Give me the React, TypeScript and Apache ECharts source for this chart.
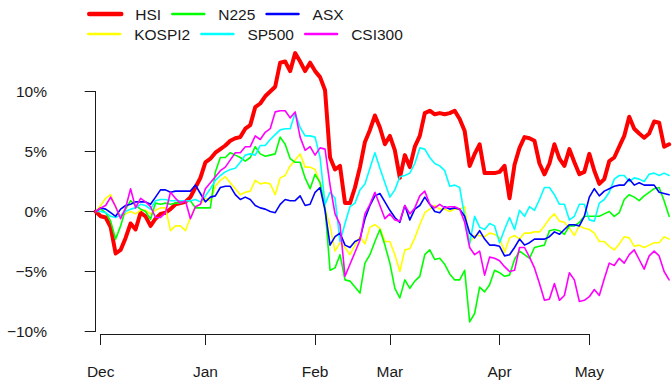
import React, { useEffect, useRef } from "react";
import * as echarts from "echarts";

const seriesNames = ["HSI", "KOSPI2", "N225", "SP500", "ASX", "CSI300"];
const seriesColors = ["#FF0000", "#FFFF00", "#00FF00", "#00FFFF", "#0000FF", "#FF00FF"];

const hsi = [
  0, -0.4, -0.5, -1.3, -3.5, -3.2, -2.2, -1.0, -1.5, -0.1,
  -0.4, -1.2, -0.6, -0.2, -0.1, 0.2, 0.6, 0.7, 0.8, 1.2,
  2.0, 2.8, 4.1, 4.4, 4.9, 5.2, 5.5, 5.9, 6.1, 6.2,
  6.9, 7.2, 8.7, 9.0, 9.6, 10.0, 10.4, 12.4, 12.5, 11.7,
  13.2, 12.5, 11.7, 12.4, 11.7, 11.2, 10.1, 4.5, 3.5, 3.8,
  0.7, 0.7, 2.0, 3.7, 5.8, 6.8, 8.0, 7.0, 5.6, 6.3,
  5.1, 2.8, 4.7, 3.7, 5.4, 6.3, 8.2, 8.4, 8.1, 8.2,
  8.1, 8.2, 8.4, 7.7, 6.7, 3.8, 4.8, 5.6, 3.2, 3.2,
  3.2, 3.3, 3.8, 1.1, 3.9, 5.3, 6.2, 6.1, 5.9, 4.0,
  3.1, 4.0, 5.6, 4.4, 3.8, 5.2, 4.1, 3.1, 3.3, 4.8,
  3.4, 2.3, 2.7, 4.2, 4.5, 5.4, 6.3, 7.9, 6.9, 6.5,
  6.15, 6.5, 7.5, 7.4, 5.4, 5.6,
];

const kospi2 = [
  0, 0.5, 1.1, 1.4, 0.4, -0.4, -0.2, 0, -0.2, 0.1,
  0.1, -0.2, 0.1, 0.3, 0.3, -1.6, -1.2, -1.2, -1.6, -0.5,
  0.4, 0.6, 1.1, 0.9, 2.1, 2.6, 2.9, 2.4, 1.9, 1.4,
  1.6, 1.7, 2.6, 2.3, 2.4, 2.3, 1.4, 2.8, 3.0, 3.8,
  4.3, 4.8, 3.7, 3.7, 3.5, 2.4, 0.2, -1.2, -3.3, -2.6,
  -3.0, -3.6, -2.8, -2.1, -2.7, -1.3, -1.1, -1.4, -2.5, -2.5,
  -3.6, -5.0, -3.2, -3.1, -2.2, -1.1, -0.1, 0.2, 0.5, 0.2,
  0.2, 0, 0.2, 0.2, 0.4, -2.6, -2.0, -2.0, -2.1, -1.8,
  -1.9, -2.2, -3.4, -2.2, -2.0, -2.3, -1.8, -1.8, -1.7, -1.7,
  -1.2, -0.6, -0.2, -0.8, -0.9, -1.4, -2.0, -1.2, -1.4, -1.5,
  -1.8, -2.5, -2.5, -2.9, -3.2, -2.7, -2.1, -2.2, -2.9, -2.8,
  -3.0, -2.8, -2.6, -2.6, -2.1, -2.3,
];

const n225 = [
  0, 0.2, -0.1, -0.8, -2.3, -1.2, 0.2, 0.9, 0.5, 0.2,
  0, -0.65, 0.7, 0.6, 0.7, 0.6, 0.7, 0.7, 0.9, 0.9,
  0.3, 0.3, 0.3, 0.3, 3.3, 4.5, 4.5, 4.9, 4.7, 4.5,
  4.2, 4.5, 5.4, 4.8, 4.6, 4.7, 4.8, 6.2, 5.6, 4.4,
  4.1, 4.1, 2.8, 1.9, 3.1, 2.4, 0.3, -4.9, -4.7, -3.6,
  -5.7, -5.8, -6.3, -6.8, -4.3, -3.6, -2.5, -1.5, -2.8, -4.3,
  -6.4, -7.2, -5.7, -6.4, -5.8, -5.4, -3.6, -3.2, -4.0, -3.9,
  -4.4, -5.2, -5.7, -5.7, -4.9, -9.2, -8.5, -6.3, -6.7, -6.1,
  -4.9, -5.1, -5.4, -5.3, -4.0, -3.3, -3.6, -3.9, -3.0, -2.9,
  -2.8, -1.6, -1.5, -1.6, -1.9, -1.2, -1.2, -0.9, -0.4, -0.4,
  -0.4, -0.4, -0.2, 0, -0.4, -0.1, 1.0, 1.4, 1.2, 0.9,
  1.3, 1.6, 1.9, 2.0, 0.9, -0.4,
];

const sp500 = [
  0, 0, -0.1, -0.4, -0.5, -0.3, 0, 0.2, 0.3, 0.6,
  0.5, 0.2, 0.9, 1.0, 1.0, 0.9, 0.9, 0.9, 0.9, 0.9,
  1.0, 0.8, 1.3, 1.9, 2.6, 3.0, 3.3, 3.5, 3.6, 4.1,
  4.7, 4.8, 4.7, 5.5, 5.5, 6.0, 6.4, 6.8, 6.9, 6.9,
  8.2, 7.0, 6.3, 6.3, 6.2, 4.5, 0.6, 1.6, 1.1, -2.5,
  -1.0, 0.4, 0.7, 1.8, 2.3, 3.6, 4.9, 3.6, 2.4, 1.2,
  1.8, 2.9, 3.0, 3.2, 4.0, 5.3, 5.2, 4.5, 4.0, 3.8,
  3.4, 2.1, 2.2, 2.0, -0.4, -2.7, -0.4, -1.3, -1.5, -1.0,
  -1.2, -2.6, -1.5, -0.5, -1.5, 0.1, -0.4, 0.4, 0.1, 1.0,
  2.0, 2.0, 1.4, 0.6, 0.6, -0.7, -0.4, 0.6, 0.6, -0.7,
  -0.8, 0.7, 1.0, 1.6, 2.7, 3.0, 3.0, 2.5, 2.8, 2.7,
  2.5, 3.1, 3.2, 3.0, 3.2, 3.0,
];

const asx = [
  0, 0.3, 0.2, -0.1, -0.4, 0.2, 0.5, 0.6, 0.8, 0.8,
  0.8, 0.6, 1.2, 1.8, 1.8, 1.6, 1.7, 1.7, 1.7, 1.7,
  2.2, 1.5, 0.8, 1.2, 1.3, 2.0, 2.1, 2.1, 1.4, 1.0,
  1.2, 1.0, 0.5, 0.3, 0.2, 0, -0.1, 0.6, 1.0, 0.9,
  0.9, 1.3, 0.5, 0.6, 1.6, 2.0, 0.1, -2.8, -2.1, -1.8,
  -2.8, -3.0, -2.5, -2.3, -0.6, 0.5, 1.3, 1.5, 0.8, 0.1,
  -0.5, -0.9, 0.5, -0.7, 0.2, 0.5, 1.2, 0.6, 0, -0.1,
  0.4, 0.2, 0.3, 0.2, -0.4, -1.8, -2.2, -1.6, -2.3, -2.8,
  -2.8, -2.9, -3.7, -3.6, -3.0, -2.3, -2.8, -2.6, -2.3, -2.3,
  -2.3, -2.1, -1.7, -1.9, -1.5, -1.1, -1.1, -1.2, -0.4, 1.2,
  1.9, 1.3, 1.7, 1.9, 2.1, 2.2, 2.2, 2.7, 2.2, 2.4,
  2.2, 2.2, 2.2, 1.6, 1.5, 1.4,
];

const csi300 = [
  0, 0.3, 0.5, 1.2, 0.4, -0.6, 0.3, 1.9, 0.3, 1.1,
  0.8, 0.4, -0.5, -0.5, -0.1, 1.6, 1.1, 0.7, 0.9, -0.6,
  0.4, 0.6, 1.9, 2.4, 2.9, 3.4, 3.7, 4.3, 4.9, 4.9,
  5.4, 5.4, 6.3, 6.0, 6.6, 6.9, 8.3, 8.4, 8.4, 7.8,
  8.3, 6.2, 5.1, 5.4, 4.7, 5.3, 5.2, 2.2, -0.2, -1.1,
  -5.4, -4.4, -3.4, -2.4, -0.2, 0.6, 1.6, 0.5, -0.6, -0.2,
  -0.7, -0.8, 0.5, -0.2, 0.3, 1.3, 1.7, 0.6, 0.3, 0.6,
  0.3, 0.4, 0.4, 0.2, -0.9, -3.0, -3.6, -3.3, -5.3, -3.8,
  -3.9, -4.1, -4.6, -5.0, -4.9, -3.0, -3.0, -3.8, -4.7, -6.0,
  -7.4, -7.3, -6.0, -7.4, -7.0, -5.1, -5.7, -7.5, -7.4, -7.1,
  -6.5, -7.0, -5.6, -4.3, -4.5, -3.9, -4.3, -3.6, -3.2, -4.0,
  -4.8, -3.7, -3.3, -3.7, -5.0, -5.7,
];

const seriesValues = [hsi, kospi2, n225, sp500, asx, csi300];
const seriesWidths = [4, 1.6, 1.6, 1.6, 1.6, 1.6];
const legendWidths = [4.5, 2.4, 2.4, 2.4, 2.4, 2.4];

const monthTickIdx = [1, 22, 44, 59, 81, 99];
const monthLabels = ["Dec", "Jan", "Feb", "Mar", "Apr", "May"];

const FONT = "'Liberation Sans', Arial, Helvetica, sans-serif";
const INK = "#1a1a1a";

export default function App() {
  const ref = useRef<HTMLDivElement>(null);

  useEffect(() => {
    if (!ref.current) return;
    const chart = echarts.init(ref.current, undefined, { renderer: "svg" });

    const legendItem = (name: string) => {
      const k = seriesNames.indexOf(name);
      return {
        name,
        lineStyle: { width: legendWidths[k], cap: "round" },
        itemStyle: { opacity: 0 },
      };
    };
    const legendCommon = {
      left: 87,
      padding: 0,
      itemWidth: 32,
      itemHeight: 12,
      itemGap: 10,
      selectedMode: false,
      textStyle: {
        fontSize: 15.5,
        fontFamily: FONT,
        color: INK,
        width: 62,
        padding: [0, 0, 0, 9],
      },
    };

    chart.setOption({
      animation: false,
      backgroundColor: "#ffffff",
      legend: [
        { ...legendCommon, top: 6, data: ["HSI", "N225", "ASX"].map(legendItem) },
        { ...legendCommon, top: 26, data: ["KOSPI2", "SP500", "CSI300"].map(legendItem) },
      ],
      grid: [
        { left: 73, right: 0, top: 91.5, height: 240 },
        { left: 100.7, right: 82.7, top: 333, height: 1 },
      ],
      xAxis: [
        { gridIndex: 0, type: "value", min: -4.55, max: 115.58, show: false },
        {
          gridIndex: 1,
          type: "value",
          min: monthTickIdx[0],
          max: monthTickIdx[monthTickIdx.length - 1],
          position: "bottom",
          axisLine: { show: true, lineStyle: { color: INK, width: 1 } },
          axisTick: { show: true, length: 11, customValues: monthTickIdx, lineStyle: { color: INK } },
          axisLabel: {
            customValues: monthTickIdx,
            formatter: (v: number) => monthLabels[monthTickIdx.indexOf(v)] ?? "",
            margin: 29,
            fontSize: 15.5,
            fontFamily: FONT,
            color: INK,
          },
          splitLine: { show: false },
        },
      ],
      yAxis: [
        {
          gridIndex: 0,
          type: "value",
          min: -10,
          max: 10,
          interval: 5,
          axisLine: { show: true, lineStyle: { color: INK, width: 1 } },
          axisTick: { show: true, length: 11, lineStyle: { color: INK } },
          axisLabel: {
            formatter: (v: number) => `${v}`.replace("-", "\u2212") + "%",
            margin: 26,
            fontSize: 15.5,
            fontFamily: FONT,
            color: INK,
          },
          splitLine: { show: false },
        },
        { gridIndex: 1, type: "value", show: false },
      ],
      series: seriesNames.map((name, k) => ({
        name,
        type: "line",
        xAxisIndex: 0,
        yAxisIndex: 0,
        data: seriesValues[k].map((v, i) => [i, v]),
        symbol: "none",
        showSymbol: false,
        clip: false,
        color: seriesColors[k],
        lineStyle: { width: seriesWidths[k], color: seriesColors[k], cap: "round", join: "round" },
        emphasis: { disabled: true },
        z: 2 + k,
      })),
    });

    return () => chart.dispose();
  }, []);

  return (
    <div
      ref={ref}
      style={{ position: "fixed", left: 0, top: 0, width: 672, height: 387, background: "#fff" }}
    />
  );
}
